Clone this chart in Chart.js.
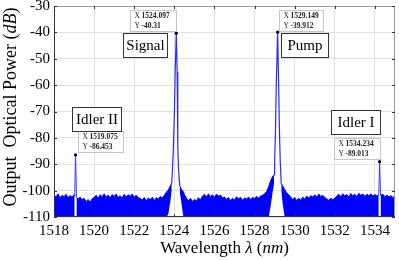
<!DOCTYPE html>
<html>
<head>
<meta charset="utf-8">
<script src="https://cdn.jsdelivr.net/npm/chart.js@4.4.1/dist/chart.umd.min.js"></script>
<style>
  html, body { margin: 0; padding: 0; background: #fff; }
</style>
</head>
<body>
<canvas id="myChart" width="399" height="260"></canvas>
<script>
// Axis ticks
const xTicks = [1518, 1520, 1522, 1524, 1526, 1528, 1530, 1532, 1534]
const yTicks = [-30, -40, -50, -60, -70, -80, -90, -100, -110]

// Peaks (data tips)
const peakNames = ['Signal', 'Pump', 'Idler II', 'Idler I']
const peakWl = [1524.097, 1529.149, 1519.075, 1534.234]
const peakDb = [-40.31, -39.912, -86.453, -89.013]

// Peak outlines
const signalWl = [1523.87, 1523.906, 1523.955, 1524.005, 1524.04, 1524.097, 1524.14, 1524.163, 1524.18, 1524.21, 1524.27]
const signalDb = [-97, -92, -83, -70, -55, -40.31, -55, -70, -83, -92, -98.2]
const pumpWl = [1528.97, 1529.0, 1529.04, 1529.08, 1529.149, 1529.2, 1529.24, 1529.28, 1529.33]
const pumpDb = [-94, -89, -78, -60, -39.912, -60, -78, -89, -97.3]
const idler2Wl = [1519.03, 1519.075, 1519.12]
const idler2Db = [-102, -86.453, -102.5]
const idler1Wl = [1534.19, 1534.234, 1534.28]
const idler1Db = [-101.6, -89.013, -101.8]

// Noise floor: top of the trace (null = gap under a peak)
const noiseWl = [
    1518.0, 1518.1, 1518.2, 1518.3, 1518.4, 1518.5, 1518.6, 1518.7, 1518.8, 1518.9, 1519.0, 1519.03,
    1519.075,
    1519.12, 1519.2, 1519.3, 1519.4, 1519.5, 1519.6, 1519.7, 1519.8, 1519.9,
    1520.0, 1520.1, 1520.2, 1520.3, 1520.4, 1520.5, 1520.6, 1520.7, 1520.8, 1520.9,
    1521.0, 1521.1, 1521.2, 1521.3, 1521.4, 1521.5, 1521.6, 1521.7, 1521.8, 1521.9,
    1522.0, 1522.1, 1522.2, 1522.3, 1522.4, 1522.5, 1522.6, 1522.7, 1522.8, 1522.9,
    1523.0, 1523.1, 1523.2, 1523.3, 1523.4, 1523.5, 1523.6, 1523.7, 1523.8, 1523.87,
    1524.097,
    1524.27, 1524.35, 1524.45, 1524.5, 1524.6, 1524.7, 1524.8, 1524.9,
    1525.0, 1525.1, 1525.2, 1525.3, 1525.4, 1525.5, 1525.6, 1525.7, 1525.8, 1525.9,
    1526.0, 1526.1, 1526.2, 1526.3, 1526.4, 1526.5, 1526.6, 1526.7, 1526.8, 1526.9,
    1527.0, 1527.1, 1527.2, 1527.3, 1527.4, 1527.5, 1527.6, 1527.7, 1527.8, 1527.9,
    1528.0, 1528.1, 1528.2, 1528.3, 1528.4, 1528.5, 1528.6, 1528.7, 1528.8, 1528.9, 1528.97,
    1529.149,
    1529.33, 1529.4, 1529.5, 1529.6, 1529.7, 1529.8, 1529.9,
    1530.0, 1530.1, 1530.2, 1530.3, 1530.4, 1530.5, 1530.6, 1530.7, 1530.8, 1530.9,
    1531.0, 1531.1, 1531.2, 1531.3, 1531.4, 1531.5, 1531.6, 1531.7, 1531.8, 1531.9,
    1532.0, 1532.1, 1532.2, 1532.3, 1532.4, 1532.5, 1532.6, 1532.7, 1532.8, 1532.9,
    1533.0, 1533.1, 1533.2, 1533.3, 1533.4, 1533.5, 1533.6, 1533.7, 1533.8, 1533.9,
    1534.0, 1534.1, 1534.19,
    1534.234,
    1534.28, 1534.4, 1534.5, 1534.6, 1534.7, 1534.8, 1534.9, 1535.0
]
const noiseTop = [
    -101.5, -102.5, -101.2, -102.8, -101.8, -102.3, -101.4, -102.6, -101.9, -102.4, -101.6, -102.0,
    null,
    -102.5, -103.2, -102.4, -103.5, -102.9, -104.2, -103.4, -104.4, -103.1,
    -102.6, -101.8, -102.9, -101.6, -102.3, -101.2, -102.5, -101.7, -102.8, -101.5,
    -102.2, -101.3, -102.6, -101.9, -102.8, -101.4, -102.4, -101.6, -102.1, -101.3,
    -102.5, -101.8, -102.7, -102.9, -103.6, -102.6, -103.9, -102.8, -103.4, -102.5,
    -103.8, -102.7, -103.2, -102.2, -102.8, -101.8, -100.6, -99.8, -98.2, -97.0,
    null,
    -98.2, -99.5, -100.4, -101.5, -102.8, -103.9, -102.9, -104.1,
    -103.3, -103.9, -102.7, -103.5, -102.1, -101.4, -102.5, -101.2, -102.3, -101.6,
    -102.6, -101.3, -102.1, -101.7, -102.8, -102.4, -103.3, -102.6, -103.8, -102.9,
    -103.5, -102.3, -103.1, -102.5, -103.7, -102.8, -103.2, -102.4, -103.4, -102.6,
    -103.0, -102.2, -102.9, -102.0, -101.8, -101.1, -100.4, -98.6, -96.2, -94.6, -94.0,
    null,
    -97.3, -98.2, -99.6, -100.8, -101.6, -102.4, -103.4,
    -102.6, -103.8, -102.9, -103.6, -102.5, -103.2, -102.1, -102.8, -101.9, -102.4,
    -101.6, -102.5, -101.3, -102.2, -101.8, -102.6, -103.1, -103.7, -102.9, -103.5,
    -102.8, -102.1, -101.4, -102.3, -101.2, -102.0, -101.5, -102.4, -101.1, -101.9,
    -101.4, -102.3, -101.0, -101.8, -101.3, -102.2, -101.4, -101.9, -101.2, -102.1,
    -101.5, -102.0, -101.6,
    null,
    -101.8, -101.4, -102.3, -101.7, -102.4, -101.9, -102.6, -102.2
]
// Bottom of the trace: sits on -110 except where it lifts beside the peaks
const noiseFloor = -110
const floorLiftWl = [1523.7, 1523.8, 1523.87, 1524.27, 1524.35, 1528.8, 1528.9, 1528.97, 1529.33, 1529.4]
const floorLiftDb = [-109, -104, -100, -100.5, -104.5, -106, -100.5, -97.5, -100, -105]

const noiseBottom = noiseTop.map(function (v, i) {
    if (v === null) return null
    const k = floorLiftWl.indexOf(noiseWl[i])
    return k >= 0 ? floorLiftDb[k] : noiseFloor
})

function pts(xs, ys) {
    return xs.map(function (v, i) { return { x: v, y: ys[i] } })
}

const serif = "'Liberation Serif', 'Times New Roman', serif"

// Data tip and label boxes, offsets from the peak dot in pixels
const tipBox = [
    { dx: -46, dy: -23, w: 46 },
    { dx: 1, dy: -22, w: 44 },
    { dx: 2, dy: -24, w: 45 },
    { dx: -46, dy: -24, w: 46 }
]
const nameBox = [
    { dx: -53, dy: 0, w: 44 },
    { dx: 3, dy: 1, w: 47 },
    { dx: -4, dy: -48, w: 49 },
    { dx: -49, dy: -52, w: 49 }
]

const annotate = {
    id: 'annotate',
    afterDatasetsDraw(chart) {
        const ctx = chart.ctx
        const a = chart.chartArea
        const xs = chart.scales.x
        const ys = chart.scales.y
        ctx.save()

        // frame with inward ticks
        ctx.lineWidth = 1
        ctx.strokeStyle = '#999'
        ctx.beginPath()
        ctx.moveTo(a.left, a.top + 0.5); ctx.lineTo(a.right, a.top + 0.5)
        ctx.moveTo(a.right - 0.5, a.top); ctx.lineTo(a.right - 0.5, a.bottom)
        ctx.stroke()
        ctx.strokeStyle = '#333'
        ctx.beginPath()
        ctx.moveTo(a.left + 0.5, a.top); ctx.lineTo(a.left + 0.5, a.bottom)
        ctx.moveTo(a.left, a.bottom - 0.5); ctx.lineTo(a.right, a.bottom - 0.5)
        xTicks.forEach(function (t) {
            const px = Math.round(xs.getPixelForValue(t)) + 0.5
            ctx.moveTo(px, a.bottom); ctx.lineTo(px, a.bottom - 3)
            ctx.moveTo(px, a.top); ctx.lineTo(px, a.top + 3)
        })
        yTicks.forEach(function (t) {
            const py = Math.round(ys.getPixelForValue(t)) + 0.5
            ctx.moveTo(a.left, py); ctx.lineTo(a.left + 3, py)
            ctx.moveTo(a.right, py); ctx.lineTo(a.right - 3, py)
        })
        ctx.stroke()

        // data tips and names
        peakWl.forEach(function (wl, i) {
            const px = xs.getPixelForValue(wl)
            const py = ys.getPixelForValue(peakDb[i])

            const t = tipBox[i]
            const bx = Math.round(px + t.dx) + 0.5
            const by = Math.round(py + t.dy) + 0.5
            ctx.fillStyle = '#fff'
            ctx.strokeStyle = '#c4c4c4'
            ctx.fillRect(bx, by, t.w, 21)
            ctx.strokeRect(bx, by, t.w, 21)
            ctx.fillStyle = '#222'
            ctx.textBaseline = 'middle'
            ctx.textAlign = 'left'
            ctx.font = '7.5px ' + serif
            ctx.fillText('X', bx + 4, by + 5.5)
            ctx.fillText('Y', bx + 4, by + 15.5)
            ctx.font = 'bold 7.5px ' + serif
            ctx.fillText(String(wl), bx + 11, by + 5.5)
            ctx.fillText(String(peakDb[i]), bx + 11, by + 15.5)

            const n = nameBox[i]
            const nx = Math.round(px + n.dx) + 0.5
            const ny = Math.round(py + n.dy) + 0.5
            ctx.fillStyle = '#fff'
            ctx.strokeStyle = '#333'
            ctx.fillRect(nx, ny, n.w, 24)
            ctx.strokeRect(nx, ny, n.w, 24)
            ctx.fillStyle = '#000'
            ctx.textAlign = 'center'
            ctx.font = '15px ' + serif
            ctx.fillText(peakNames[i], nx + n.w / 2, ny + 12.5)
        })
        ctx.restore()
    },
    afterDraw(chart) {
        const ctx = chart.ctx
        const a = chart.chartArea
        ctx.save()
        ctx.fillStyle = '#000'
        ctx.textBaseline = 'alphabetic'
        ctx.textAlign = 'left'

        // x title: Wavelength λ (nm)
        const xParts = [['Wavelength ', ''], ['λ', 'italic '], [' (', ''], ['nm', 'italic '], [')', '']]
        drawParts(ctx, xParts, '17px ', (a.left + a.right) / 2, 253)

        // y title: Output  Optical Power (dB)
        ctx.translate(16, 107)
        ctx.rotate(-Math.PI / 2)
        const yParts = [['Output  Optical Power (', ''], ['dB', 'italic '], [')', '']]
        drawParts(ctx, yParts, '18px ', 0, 0)
        ctx.restore()
    }
}

function drawParts(ctx, parts, size, cx, baseY) {
    let total = 0
    parts.forEach(function (p) {
        ctx.font = p[1] + size + serif
        total += ctx.measureText(p[0]).width
    })
    let x = cx - total / 2
    parts.forEach(function (p) {
        ctx.font = p[1] + size + serif
        ctx.fillText(p[0], x, baseY)
        x += ctx.measureText(p[0]).width
    })
}

const myChart = document.getElementById('myChart')

const chart = new Chart(myChart, {
    type: 'line',
    data: {
        datasets: [
            {
                label: 'Data tips',
                data: pts(peakWl, peakDb),
                showLine: false,
                pointRadius: 1.6,
                pointBackgroundColor: '#000',
                pointBorderWidth: 0
            },
            {
                label: 'Signal',
                data: pts(signalWl, signalDb),
                borderColor: '#2a2aff',
                borderWidth: 1.2,
                pointRadius: 0
            },
            {
                label: 'Pump',
                data: pts(pumpWl, pumpDb),
                borderColor: '#2a2aff',
                borderWidth: 1.2,
                pointRadius: 0
            },
            {
                label: 'Idler II',
                data: pts(idler2Wl, idler2Db),
                borderColor: '#3a3aff',
                borderWidth: 1,
                pointRadius: 0
            },
            {
                label: 'Idler I',
                data: pts(idler1Wl, idler1Db),
                borderColor: '#3a3aff',
                borderWidth: 1,
                pointRadius: 0
            },
            {
                label: 'Noise top',
                data: pts(noiseWl, noiseTop),
                borderColor: '#0000ff',
                backgroundColor: '#0000ff',
                borderWidth: 1,
                pointRadius: 0,
                fill: '+1'
            },
            {
                label: 'Noise bottom',
                data: pts(noiseWl, noiseBottom),
                borderColor: '#0000ff',
                borderWidth: 0,
                pointRadius: 0,
                fill: false
            }
        ]
    },
    options: {
        responsive: false,
        animation: false,
        devicePixelRatio: 1,
        layout: { padding: { top: 6, right: 4, left: 0, bottom: 0 } },
        plugins: { legend: { display: false }, tooltip: { enabled: false } },
        elements: { line: { tension: 0 } },
        scales: {
            x: {
                type: 'linear',
                min: 1518,
                max: 1535,
                afterBuildTicks: function (s) { s.ticks = xTicks.map(function (v) { return { value: v } }) },
                afterFit: function (s) { s.height = 43; s.paddingLeft = 0; s.paddingRight = 0 },
                border: { display: false },
                grid: { color: '#e0e0e0', drawTicks: false },
                ticks: {
                    padding: 5,
                    color: '#000',
                    font: { family: serif, size: 15 },
                    maxRotation: 0,
                    autoSkip: false,
                    callback: function (v) { return String(v) }
                }
            },
            y: {
                min: -110,
                max: -30,
                afterBuildTicks: function (s) { s.ticks = yTicks.map(function (v) { return { value: v } }) },
                afterFit: function (s) { s.width = 54; s.paddingTop = 0; s.paddingBottom = 0 },
                border: { display: false },
                grid: { color: '#e0e0e0', drawTicks: false },
                ticks: {
                    padding: 4,
                    color: '#000',
                    font: { family: serif, size: 15 },
                    autoSkip: false,
                    callback: function (v) { return String(v) }
                }
            }
        }
    },
    plugins: [annotate]
})
</script>
</body>
</html>
